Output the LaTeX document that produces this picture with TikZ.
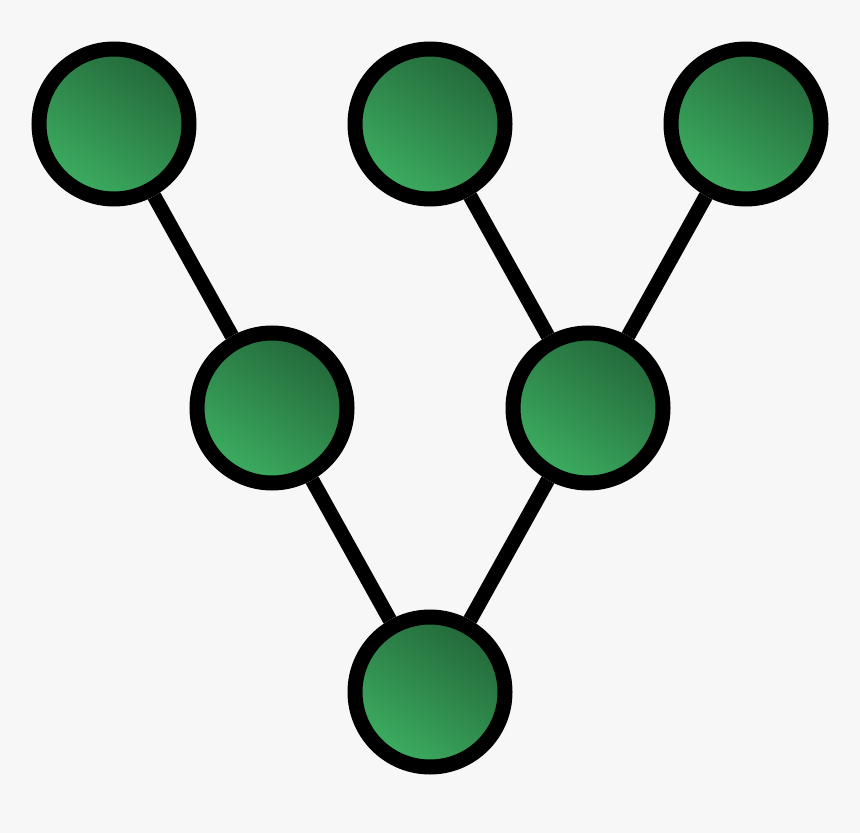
\documentclass[tikz,border=0pt]{standalone}
\usepackage{xcolor}
\usepackage{tikz}
\usetikzlibrary{positioning}

\definecolor{bggray}{RGB}{247,247,247}
\definecolor{leaflight}{RGB}{60,174,97}
\definecolor{leafdark}{RGB}{35,103,57}

\begin{document}
\begin{tikzpicture}[node distance=5.68cm and 3.16cm,on grid,
    vertex/.style={circle,draw=black,line width=0.3cm,minimum size=3cm,
      shading=axis,top color=leafdark,bottom color=leaflight,shading angle=-35}]
   \fill[bggray] (0,0) rectangle (17.2,-16.66);
   \node[vertex] (t_1) at (2.28,-2.48) {};
   \node[vertex] (m_1) [below right=of t_1] {};
   \node[vertex] (t_2) [above right=of m_1] {};
   \node[vertex] (m_2) [below right=of t_2] {};
   \node[vertex] (t_3) [above right=of m_2] {};
   \node[vertex] (b_1) [below right=of m_1] {};

    \path[draw, line width=0.29cm]
    (t_1) edge (m_1)
    (t_2) edge (m_2)
    (t_3) edge (m_2)
    (m_1) edge (b_1)
    (m_2) edge (b_1);
\end{tikzpicture}
\end{document}
